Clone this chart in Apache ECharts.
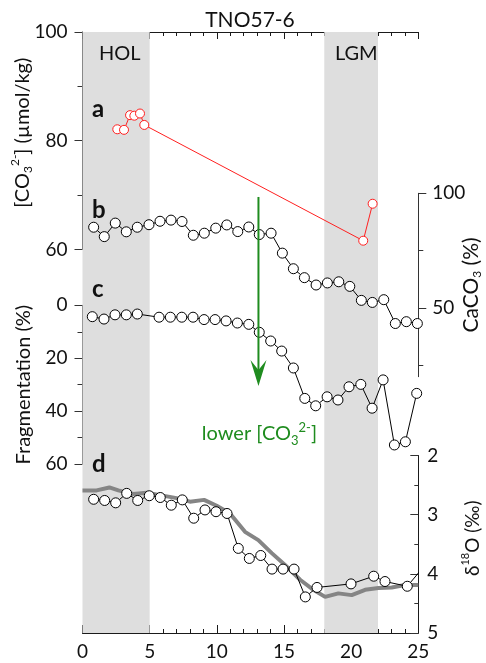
<!DOCTYPE html>
<html>
<head>
<meta charset="utf-8">
<script src="https://cdn.jsdelivr.net/npm/echarts@6/dist/echarts.min.js"></script>
<style>
  html, body { margin: 0; padding: 0; background: #fff; }
  #chart { width: 486px; height: 663px; }
</style>
</head>
<body>
<div id="chart"></div>
<script>
// ---- Core TNO57-6: records against age (ka) ----
// a: deep-water carbonate ion concentration (µmol/kg)
const co3Age = [2.59, 3.09, 3.54, 3.86, 4.28, 4.60, 20.9, 21.6];
const co3Val = [82.1, 82.0, 84.7, 84.6, 85.0, 82.9, 61.6, 68.4];

// b: CaCO3 content (%)
const caco3Age = [0.83, 1.62, 2.44, 3.26, 4.08, 4.95, 5.77, 6.59, 7.41, 8.25,
                  9.07, 9.92, 10.74, 11.56, 12.38, 13.16, 14.04, 14.88, 15.70, 16.52,
                  17.39, 18.23, 19.08, 19.90, 20.76, 21.58, 22.43, 23.29, 24.11, 24.93];
const caco3Val = [85.2, 81.1, 87.0, 83.2, 85.2, 86.3, 87.8, 88.3, 87.7, 81.7,
                  82.6, 84.8, 86.2, 83.3, 85.3, 82.0, 82.6, 73.9, 67.1, 63.2,
                  60.0, 60.9, 61.4, 59.4, 53.3, 52.4, 53.6, 43.2, 44.0, 43.2];

// c: foraminiferal fragmentation (%)
const fragAge = [0.73, 1.60, 2.42, 3.26, 4.08, 5.70, 6.54, 7.39, 8.23, 9.05,
                 9.87, 10.69, 11.53, 12.38, 13.16, 14.01, 14.83, 15.70, 16.55, 17.36,
                 18.21, 19.02, 19.84, 20.72, 21.56, 22.38, 23.22, 24.04, 24.88];
const fragVal = [4.3, 5.2, 3.6, 3.6, 3.3, 4.5, 4.5, 4.5, 4.5, 5.4,
                 5.4, 5.9, 6.7, 7.2, 10.2, 13.5, 17.3, 23.7, 35.2, 38.0,
                 34.6, 35.8, 30.8, 29.9, 38.9, 28.2, 52.8, 51.6, 33.3];

// d: benthic foraminiferal d18O (‰)
const d18oAge = [0.83, 1.65, 2.47, 3.29, 4.11, 4.97, 5.79, 6.61, 7.43, 8.28,
                 9.12, 9.94, 10.76, 11.60, 12.42, 13.27, 14.11, 14.93, 15.75, 16.59,
                 17.46, 19.99, 21.68, 22.52, 24.18, 25.40];
const d18oVal = [2.74, 2.76, 2.80, 2.64, 2.76, 2.68, 2.71, 2.84, 2.75, 3.06,
                 2.92, 2.95, 2.98, 3.57, 3.74, 3.69, 3.92, 3.92, 3.92, 4.39,
                 4.23, 4.17, 4.04, 4.13, 4.21, 3.88];

// d: reference benthic d18O stack (grey curve)
const stackAge = [0.0, 1.05, 2.0, 2.67, 3.78, 4.78, 5.77, 7.01, 8.0, 9.05,
                  9.99, 10.98, 12.1, 13.09, 14.09, 15.08, 16.2, 17.19, 18.06, 19.05,
                  20.04, 21.04, 22.03, 23.02, 24.01, 25.0];
const stackVal = [2.59, 2.59, 2.54, 2.59, 2.65, 2.63, 2.67, 2.72, 2.78, 2.75,
                  2.85, 2.98, 3.29, 3.43, 3.65, 3.85, 4.10, 4.27, 4.39, 4.33,
                  4.36, 4.27, 4.24, 4.23, 4.19, 4.19];

// climate intervals shaded in grey
const periods = [
  { name: 'HOL', from: 0, to: 5 },
  { name: 'LGM', from: 18, to: 22 }
];

// axis ranges and tick values
const ageRange = [0, 25];
const co3Range = [60, 100];
const caco3Range = [20, 100];
const caco3Major = [50, 100];
const caco3Minor = [25, 75];
const fragRange = [0, 60];
const d18oRange = [2, 5];

// "lower [CO3 2-]" arrow: age, starting CaCO3 level, ending fragmentation level
const arrowAge = 13.1;
const arrowFromCaco3 = 98.4;
const arrowToFrag = 30.5;

const FONT = 'Lato';
const TICK_SIZE = 19;
const pairs = (xs, ys) => xs.map((x, i) => [x, ys[i]]);

const L = 82.5, R = 67.7;
const AXIS_COLOR = '#1a1a1a';
const TXT = '#111';

function hiddenX(gridIndex) {
  return { type: 'value', gridIndex, min: ageRange[0], max: ageRange[1], show: false };
}
function grid(top, height) {
  return { left: L, right: R, top, height, outerBoundsMode: 'none', containLabel: false };
}

const chart = echarts.init(document.getElementById('chart'), null, { renderer: 'canvas' });

const option = {
  animation: false,
  backgroundColor: '#fff',
  textStyle: { fontFamily: FONT },
  grid: [
    grid(32, 601),      // frame with age axes
    grid(32, 217.4),    // a
    grid(193.3, 183.4), // b
    grid(305.3, 158.7), // c
    grid(455.5, 177.5)  // d
  ],
  xAxis: [
    {
      type: 'value', gridIndex: 0, position: 'bottom',
      min: ageRange[0], max: ageRange[1], interval: 5,
      axisLine: { onZero: false, lineStyle: { color: AXIS_COLOR, width: 1 } },
      axisTick: { inside: true, length: 8, lineStyle: { color: AXIS_COLOR } },
      minorTick: { show: true, splitNumber: 5, length: 4, lineStyle: { color: AXIS_COLOR } },
      axisLabel: { color: TXT, fontSize: TICK_SIZE, fontFamily: FONT, margin: 9 },
      splitLine: { show: false }
    },
    {
      type: 'value', gridIndex: 0, position: 'top',
      min: ageRange[0], max: ageRange[1], interval: 5,
      axisLine: { onZero: false, lineStyle: { color: AXIS_COLOR, width: 1 } },
      axisTick: { inside: true, length: 7, lineStyle: { color: AXIS_COLOR } },
      minorTick: { show: true, splitNumber: 5, length: 4, lineStyle: { color: AXIS_COLOR } },
      axisLabel: { show: false },
      splitLine: { show: false }
    },
    hiddenX(1), hiddenX(2), hiddenX(3), hiddenX(4)
  ],
  yAxis: [
    { type: 'value', gridIndex: 0, min: 0, max: 1, show: false },
    {
      type: 'value', gridIndex: 1, position: 'left',
      min: co3Range[0], max: co3Range[1], interval: 20,
      axisLine: { show: true, onZero: false, lineStyle: { color: '#333' } },
      axisTick: { show: true, length: 8, lineStyle: { color: '#333' } },
      minorTick: { show: true, splitNumber: 2, length: 5, lineStyle: { color: '#333' } },
      axisLabel: { color: TXT, fontSize: TICK_SIZE, fontFamily: FONT, margin: 15 },
      splitLine: { show: false },
      name: '{n|[CO}{sub|3}{sup|2-}{n|] (µmol/kg)}',
      nameLocation: 'middle', nameGap: 47, nameRotate: 90, nameMoveOverlap: false,
      nameTextStyle: {
        color: TXT, fontFamily: FONT, padding: [0, 0, 0, 16],
        rich: {
          n: { fontSize: 20, lineHeight: 26, fontFamily: FONT, color: TXT },
          sub: { fontSize: 12, verticalAlign: 'bottom', fontFamily: FONT, color: TXT, padding: [0, 0, 1, 0] },
          sup: { fontSize: 12, verticalAlign: 'top', fontFamily: FONT, color: TXT }
        }
      }
    },
    {
      type: 'value', gridIndex: 2, position: 'right',
      min: caco3Range[0], max: caco3Range[1],
      axisLine: { show: true, onZero: false, lineStyle: { color: '#333' } },
      axisTick: { show: true, length: 8, customValues: caco3Major, lineStyle: { color: '#333' } },
      axisLabel: { color: TXT, fontSize: TICK_SIZE, fontFamily: FONT, margin: 14, customValues: caco3Major },
      splitLine: { show: false },
      name: '{n|CaCO}{sub|3}{n| (%)}',
      nameLocation: 'middle', nameGap: 40, nameRotate: 90, nameMoveOverlap: false,
      nameTextStyle: {
        color: TXT, fontFamily: FONT,
        rich: {
          n: { fontSize: 21, lineHeight: 26, fontFamily: FONT, color: TXT },
          sub: { fontSize: 12, verticalAlign: 'bottom', fontFamily: FONT, color: TXT, padding: [0, 0, 1, 0] }
        }
      }
    },
    {
      type: 'value', gridIndex: 2, position: 'right',
      min: caco3Range[0], max: caco3Range[1],
      axisLine: { show: false, onZero: false },
      axisTick: { show: true, length: 5, customValues: caco3Minor, lineStyle: { color: '#333' } },
      axisLabel: { show: false },
      splitLine: { show: false }
    },
    {
      type: 'value', gridIndex: 3, position: 'left', inverse: true,
      min: fragRange[0], max: fragRange[1], interval: 20,
      axisLine: { show: true, onZero: false, lineStyle: { color: '#555' } },
      axisTick: { show: true, length: 8, lineStyle: { color: '#333' } },
      minorTick: { show: true, splitNumber: 2, length: 5, lineStyle: { color: '#333' } },
      axisLabel: { color: TXT, fontSize: TICK_SIZE, fontFamily: FONT, margin: 15 },
      splitLine: { show: false },
      name: 'Fragmentation (%)',
      nameLocation: 'middle', nameGap: 49, nameRotate: 90, nameMoveOverlap: false,
      nameTextStyle: { color: TXT, fontSize: 20, fontFamily: FONT }
    },
    {
      type: 'value', gridIndex: 4, position: 'right', inverse: true,
      min: d18oRange[0], max: d18oRange[1], interval: 1,
      axisLine: { show: true, onZero: false, lineStyle: { color: AXIS_COLOR } },
      axisTick: { show: true, inside: true, length: 8, lineStyle: { color: '#333' } },
      minorTick: { show: true, splitNumber: 2, length: 4, lineStyle: { color: '#333' } },
      axisLabel: { color: TXT, fontSize: TICK_SIZE, fontFamily: FONT, margin: 9 },
      splitLine: { show: false },
      name: '{n|δ}{sup|18}{n|O (‰)}',
      nameLocation: 'middle', nameGap: 42, nameRotate: 90, nameMoveOverlap: false,
      nameTextStyle: {
        color: TXT, fontFamily: FONT, padding: [0, 0, 0, 12],
        rich: {
          n: { fontSize: 19, lineHeight: 26, fontFamily: FONT, color: TXT },
          sup: { fontSize: 11, verticalAlign: 'top', fontFamily: FONT, color: TXT }
        }
      }
    }
  ],
  series: [
    {
      name: 'periods', type: 'line', xAxisIndex: 0, yAxisIndex: 0, data: [],
      silent: true, z: 0,
      markArea: {
        silent: true,
        itemStyle: { color: '#dedede' },
        data: periods.map(p => [{ xAxis: p.from }, { xAxis: p.to }])
      }
    },
    {
      name: 'CO3', type: 'line', xAxisIndex: 2, yAxisIndex: 1,
      data: pairs(co3Age, co3Val),
      symbol: 'circle', symbolSize: 9, showAllSymbol: true, z: 4,
      lineStyle: { color: '#ff2020', width: 1 },
      itemStyle: { color: '#fff', borderColor: '#ff2020', borderWidth: 1 },
      emphasis: { disabled: true }
    },
    {
      name: 'CaCO3', type: 'line', xAxisIndex: 3, yAxisIndex: 2,
      data: pairs(caco3Age, caco3Val),
      symbol: 'circle', symbolSize: 10, showAllSymbol: true, z: 4,
      lineStyle: { color: '#000', width: 1 },
      itemStyle: { color: '#fff', borderColor: '#000', borderWidth: 1 },
      emphasis: { disabled: true }
    },
    {
      name: 'Fragmentation', type: 'line', xAxisIndex: 4, yAxisIndex: 4,
      data: pairs(fragAge, fragVal),
      symbol: 'circle', symbolSize: 10, showAllSymbol: true, z: 4,
      lineStyle: { color: '#000', width: 1 },
      itemStyle: { color: '#fff', borderColor: '#000', borderWidth: 1 },
      emphasis: { disabled: true }
    },
    {
      name: 'Stack', type: 'line', xAxisIndex: 5, yAxisIndex: 5,
      data: pairs(stackAge, stackVal),
      showSymbol: false, z: 3,
      lineStyle: { color: '#858585', width: 4 },
      emphasis: { disabled: true }
    },
    {
      name: 'd18O', type: 'line', xAxisIndex: 5, yAxisIndex: 5,
      data: pairs(d18oAge, d18oVal),
      symbol: 'circle', symbolSize: 10, showAllSymbol: true, z: 4,
      lineStyle: { color: '#000', width: 1 },
      itemStyle: { color: '#fff', borderColor: '#000', borderWidth: 1 },
      emphasis: { disabled: true }
    }
  ]
};

chart.setOption(option);

// Annotations: titles, period names, panel letters and the arrow
const GREEN = '#1f8c1f';
const pTop = chart.convertToPixel({ seriesIndex: 2 }, [arrowAge, arrowFromCaco3]);
const pTip = chart.convertToPixel({ seriesIndex: 3 }, [arrowAge, arrowToFrag]);
const ax = pTop[0];
const headLen = 26, headHalf = 8, notch = 10;

function label(text, x, y, size, bold, align) {
  return {
    type: 'text', x, y, z: 20, silent: true,
    style: {
      text, fill: TXT, font: (bold ? 'bold ' : '') + size + 'px ' + FONT,
      textAlign: align || 'center', textVerticalAlign: 'middle'
    }
  };
}

const periodLabels = periods.map((p, i) => label(p.name, [119.7, 356.3][i], 53.4, 20, false));

chart.setOption({
  graphic: [
    label('TNO57-6', 250, 20, 21, false),
    ...periodLabels,
    label('a', 92, 109.3, 24, true, 'left'),
    label('b', 92, 210.6, 24, true, 'left'),
    label('c', 92, 289, 24, true, 'left'),
    label('d', 92, 464, 24, true, 'left'),
    {
      type: 'line', z: 30, silent: true,
      shape: { x1: ax, y1: pTop[1], x2: ax, y2: pTip[1] - headLen + notch },
      style: { stroke: GREEN, lineWidth: 2 }
    },
    {
      type: 'polygon', z: 30, silent: true,
      shape: { points: [[ax - headHalf, pTip[1] - headLen], [ax, pTip[1]], [ax + headHalf, pTip[1] - headLen], [ax, pTip[1] - headLen + notch]] },
      style: { fill: GREEN }
    },
    {
      type: 'text', x: ax + 1, y: 434, z: 30, silent: true,
      style: {
        text: '{n|lower [CO}{sub|3}{sup|2-}{n|]}',
        textAlign: 'center', textVerticalAlign: 'middle',
        rich: {
          n: { fontSize: 20, lineHeight: 26, fontFamily: FONT, fill: GREEN },
          sub: { fontSize: 13, verticalAlign: 'bottom', fontFamily: FONT, fill: GREEN },
          sup: { fontSize: 13, verticalAlign: 'top', fontFamily: FONT, fill: GREEN }
        }
      }
    }
  ]
});
</script>
</body>
</html>
